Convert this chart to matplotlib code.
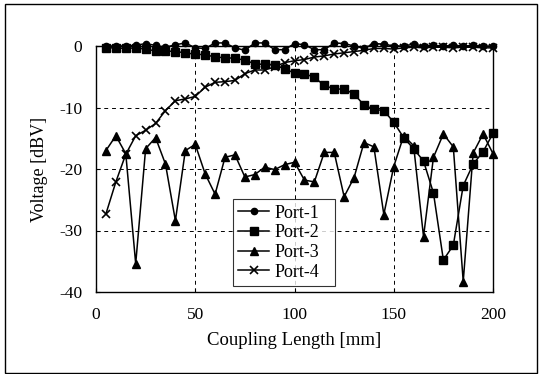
import matplotlib
matplotlib.use("Agg")
import matplotlib.pyplot as plt
from matplotlib.patches import Rectangle

plt.rcParams["axes.unicode_minus"] = False

coupling_length = [5, 10, 15, 20, 25, 30, 35, 40, 45, 50, 55, 60, 65, 70, 75, 80, 85, 90, 95, 100,
                   105, 110, 115, 120, 125, 130, 135, 140, 145, 150, 155, 160, 165, 170, 175, 180, 185, 190, 195, 200]

port1 = [0.0, 0.0, 0.0, 0.1, 0.4, 0.1, -0.2, 0.2, 0.5, -0.3, -0.4, 0.5, 0.5, -0.3, -0.7, 0.5, 0.5, -0.6, -0.6, 0.4,
         0.2, -0.6, -0.6, 0.5, 0.4, 0.0, -0.4, 0.4, 0.3, 0.0, 0.0, 0.3, 0.0, 0.1, 0.0, 0.1, 0.0, 0.1, 0.0, 0.0]

port2 = [-0.3, -0.3, -0.4, -0.3, -0.5, -0.8, -0.8, -0.9, -1.1, -1.35, -1.4, -1.8, -1.9, -2.0, -2.3, -2.9, -3.0, -3.1, -3.7, -4.4,
         -4.5, -5.1, -6.4, -7.0, -7.0, -7.8, -9.6, -10.3, -10.5, -12.4, -14.9, -16.7, -18.7, -23.9, -34.8, -32.4, -22.7, -19.2, -17.2, -14.2]

port3 = [-17.0, -14.6, -17.5, -35.4, -16.7, -14.9, -19.2, -28.4, -17.0, -16.0, -20.8, -24.1, -18.1, -17.7, -21.3, -20.9, -19.7, -20.1, -19.3, -18.9,
         -21.8, -22.1, -17.3, -17.3, -24.5, -21.4, -15.7, -16.4, -27.4, -19.6, -14.6, -16.2, -31.0, -18.1, -14.3, -16.4, -38.3, -17.4, -14.3, -17.5]

port4 = [-27.3, -22.1, -17.6, -14.6, -13.7, -12.6, -10.5, -8.9, -8.6, -8.2, -6.7, -5.9, -5.8, -5.6, -4.5, -3.9, -3.9, -3.4, -2.7, -2.4,
         -2.2, -1.8, -1.6, -1.3, -1.1, -0.9, -0.7, -0.4, -0.4, -0.5, -0.3, -0.2, -0.3, -0.2, -0.2, -0.3, -0.2, -0.2, -0.3, -0.3]

series_names = ["Port-1", "Port-2", "Port-3", "Port-4"]
x_ticks = [0, 50, 100, 150, 200]
y_ticks = [0, -10, -20, -30, -40]
x_label = "Coupling Length [mm]"
y_label = "Voltage [dBV]"

serif = ["Liberation Serif", "DejaVu Serif"]

fig = plt.figure(figsize=(5.42, 3.74), dpi=100)
ax = fig.add_axes([96/542, 1-292/374, 397/542, 246/374])

styles = [
    dict(marker="o", ms=4.5),
    dict(marker="s", ms=5.5),
    dict(marker="^", ms=5.5),
    dict(marker="x", ms=5.5, mew=1.2),
]
for name, ys, st in zip(series_names, [port1, port2, port3, port4], styles):
    ax.plot(coupling_length, ys, color="black", lw=1.1, label=name, clip_on=False, zorder=3, **st)

ax.set_xlim(0, 200)
ax.set_ylim(-40, 0)
ax.set_xticks(x_ticks)
ax.set_yticks(y_ticks)
ax.grid(True, color="black", linestyle=(0, (4, 4)), linewidth=0.7)
ax.tick_params(direction="in", length=3, width=0.8, labelsize=12.5, pad=10)
ax.tick_params(axis="x", pad=11)
for lab in ax.get_xticklabels() + ax.get_yticklabels():
    lab.set_family(serif)
for sp in ax.spines.values():
    sp.set_linewidth(1.0)

ax.set_xlabel(x_label, fontsize=13.5, family=serif, labelpad=6)
ax.set_ylabel(y_label, fontsize=13, family=serif, labelpad=8)

leg = ax.legend(loc="lower left", bbox_to_anchor=(0.345, 0.024, 0.257, 0.362), mode="expand",
                prop={"family": serif, "size": 13}, frameon=True, fancybox=False,
                borderaxespad=0, handlelength=1.7, handletextpad=0.3, labelspacing=0.15, borderpad=0.3)
leg.get_frame().set_edgecolor("black")
leg.get_frame().set_linewidth(0.8)
leg.set_zorder(5)

fig.patches.append(Rectangle((5/542, 1-373/374), 532/542, 369/374, transform=fig.transFigure,
                             fill=False, edgecolor="black", linewidth=1.0))

fig.savefig("out.png", dpi=100)
